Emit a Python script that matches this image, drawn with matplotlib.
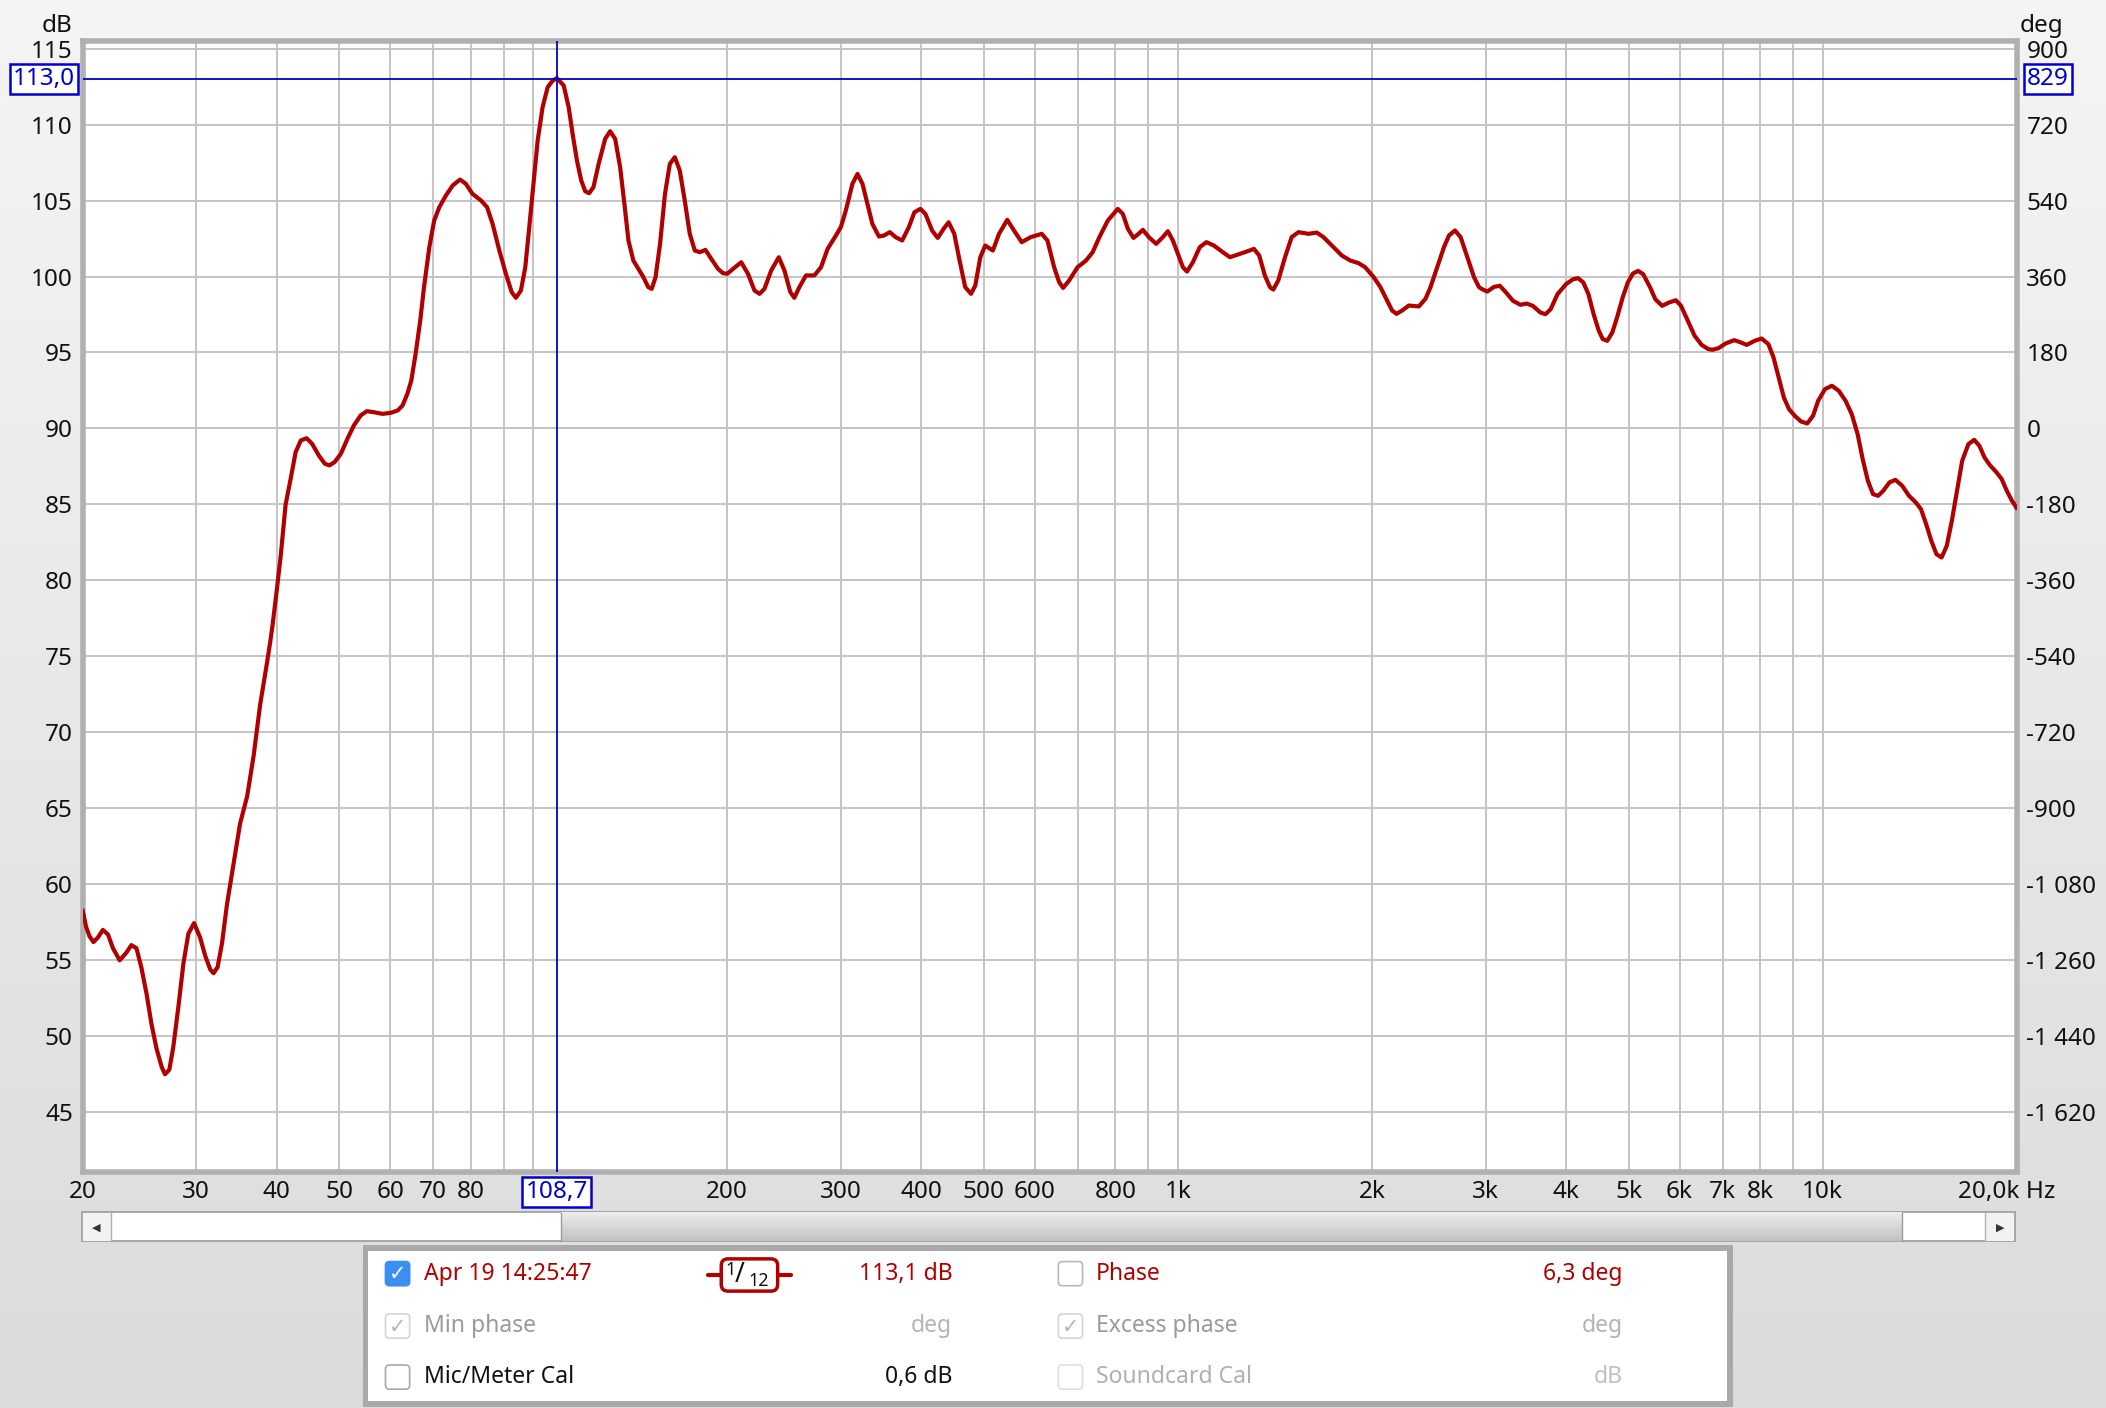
import numpy as np
import matplotlib
matplotlib.use('Agg')
import matplotlib.pyplot as plt
from matplotlib.patches import Rectangle, FancyBboxPatch
from matplotlib.transforms import blended_transform_factory
from matplotlib.ticker import NullLocator

plt.rcParams['font.family'] = ['Noto Sans', 'DejaVu Sans']

# ---------------- data ----------------
freq_hz = [
    20.0, 20.25, 20.49, 20.79, 21.12, 21.5, 21.9, 22.29, 22.83, 23.38, 23.8, 24.24, 24.68, 25.13,
    25.58, 26.04, 26.52, 26.84, 27.26, 27.65, 28.15, 28.67, 29.18, 29.78, 30.43, 30.99, 31.55,
    31.93, 32.39, 32.9, 33.5, 34.1, 35.1, 36.0, 36.85, 37.7, 38.65, 39.1, 39.4, 40.0, 40.6, 41.3,
    42.05, 42.8, 43.6, 44.5, 45.4, 46.5, 47.5, 48.3, 49.2, 50.3, 51.5, 52.7, 54.0, 55.2, 56.6,
    58.4, 60.1, 61.6, 62.7, 63.8, 64.7, 65.7, 66.8, 67.7, 69.0, 70.2, 71.5, 73.2, 75.0, 77.0,
    78.6, 80.5, 83.0, 84.8, 86.5, 88.6, 90.7, 92.6, 94.0, 95.7, 97.2, 98.6, 100.2, 101.6, 103.4,
    105.3, 107.2, 108.8,
    111.5, 113.5, 115.1, 116.9, 118.7, 120.4, 122.1, 124.0, 126.3, 129.3, 131.6, 134.0, 136.4,
    138.5, 140.5, 143.0, 145.6, 148.2, 150.8, 152.7, 154.8, 157.3, 160.1, 162.9, 165.8, 168.8,
    171.8, 174.9, 178.1, 181.3, 185.0, 188.9, 193.5, 196.9, 200.0, 204.1, 210.2, 215.3, 220.4,
    224.4, 228.4, 233.9, 240.4, 245.3, 250.5, 254.1, 258.7, 264.9, 272.9, 279.5, 286.2, 294.8,
    300.0, 305.4, 312.7, 318.4, 324.1, 329.9, 335.8, 343.8, 350.0, 357.4, 364.8, 373.5, 382.5,
    390.2, 398.7, 405.8, 415.6, 424.1, 433.1, 440.9, 449.9, 458.5, 467.8, 477.6, 485.0, 493.7,
    502.5,
    516.4, 527.9, 543.6, 556.8, 572.4, 591.1, 614.9, 627.5, 642.7, 654.3, 663.7, 678.1, 698.7,
    720.0, 737.5, 755.4, 778.4, 806.7, 821.4, 836.3, 853.3, 868.8, 882.3, 901.3, 925.3, 947.5,
    964.7, 982.2, 1000.0, 1018.0, 1033.0, 1055.0, 1081.0, 1107.0, 1137.0, 1168.0, 1204.0, 1240.0,
    1278.0, 1312.0, 1337.0, 1364.0, 1389.0, 1406.0, 1431.0, 1466.0, 1501.0, 1538.0, 1594.0,
    1642.0, 1682.0, 1743.0, 1796.0, 1851.0, 1906.0, 1952.0, 2012.0, 2061.0, 2111.0, 2149.0,
    2183.0, 2227.0, 2281.0, 2364.0, 2421.0, 2465.0, 2525.0, 2586.0, 2633.0, 2690.0, 2745.0,
    2811.0, 2879.0, 2931.0,
    2963.0, 3019.0, 3093.0, 3158.0, 3228.0, 3309.0, 3399.0, 3475.0, 3552.0, 3650.0, 3717.0,
    3786.0, 3880.0, 4000.0, 4101.0, 4176.0, 4254.0, 4333.0, 4414.0, 4496.0, 4560.0, 4634.0,
    4719.0, 4807.0, 4896.0, 4987.0, 5080.0, 5174.0, 5270.0, 5401.0, 5501.0, 5638.0, 5777.0,
    5920.0, 6031.0, 6180.0, 6331.0, 6491.0, 6650.0, 6749.0, 6898.0, 7069.0, 7291.0, 7470.0,
    7627.0, 7847.0, 8042.0, 8240.0, 8392.0, 8548.0, 8707.0, 8870.0, 9055.0, 9258.0, 9465.0,
    9663.0, 9842.0, 10086.0, 10337.0, 10593.0, 10855.0, 11097.0, 11332.0, 11539.0, 11754.0,
    11972.0, 12194.0, 12420.0, 12696.0, 12967.0, 13287.0, 13614.0, 13951.0, 14210.0, 14474.0,
    14743.0, 15016.0, 15296.0, 15580.0, 15867.0, 16162.0, 16462.0, 16831.0, 17185.0, 17505.0,
    17830.0, 18158.0, 18610.0, 18957.0, 19306.0, 19666.0, 19907.0, 20000.0,
]
spl_db = [
    58.3, 57.2, 56.6, 56.2, 56.5, 57.0, 56.7, 55.8, 55.0, 55.5, 56.0, 55.8, 54.5, 52.8,
    50.8, 49.2, 48.0, 47.5, 47.8, 49.3, 51.9, 54.8, 56.75, 57.45, 56.5, 55.3, 54.4,
    54.15, 54.55, 56.1, 58.7, 60.7, 64.0, 65.8, 68.5, 71.8, 74.6, 76.0, 77.0, 79.3, 81.7, 85.0,
    86.69, 88.44, 89.21, 89.36, 88.99, 88.22, 87.68, 87.57, 87.79, 88.33, 89.32, 90.20, 90.86,
    91.14, 91.07, 90.96, 91.03, 91.18, 91.51, 92.28, 93.16, 94.91, 97.11, 99.30, 101.93, 103.68,
    104.56, 105.33, 105.99, 106.38, 106.10, 105.44, 105.0, 104.56, 103.46, 101.71, 100.18, 98.97,
    98.60, 99.08, 100.61, 103.25, 106.32, 108.95, 111.14, 112.46, 112.89, 113.05,
    112.57, 111.14, 109.39, 107.63, 106.32, 105.61, 105.48, 105.88, 107.4, 109.06, 109.56, 109.06,
    107.19, 104.78, 102.37, 101.05, 100.5, 99.96, 99.3, 99.19, 99.96, 102.15, 105.44, 107.41,
    107.85, 106.97, 105.0, 102.81, 101.71, 101.6, 101.75, 101.16, 100.5, 100.22, 100.18, 100.5,
    100.94, 100.18, 99.08, 98.86, 99.19, 100.39, 101.27, 100.39, 98.97, 98.6, 99.3, 100.07,
    100.07, 100.61, 101.82, 102.7, 103.25, 104.34, 106.1, 106.75, 106.1, 104.78, 103.46, 102.63,
    102.7, 102.92, 102.59, 102.37, 103.25, 104.23, 104.45, 104.12, 103.03, 102.54, 103.14,
    103.57, 102.81, 101.05, 99.3, 98.86, 99.41, 101.27, 102.04,
    101.71, 102.81, 103.73, 103.03, 102.26, 102.59, 102.81, 102.37, 100.61, 99.63, 99.25, 99.74,
    100.61, 101.05, 101.6, 102.59, 103.68, 104.45, 104.12, 103.14, 102.54, 102.81, 103.07,
    102.59, 102.15, 102.59, 102.98, 102.37, 101.49, 100.61, 100.33, 100.94, 101.93, 102.26,
    102.04, 101.67, 101.27, 101.45, 101.64, 101.82, 101.38, 100.07, 99.3, 99.14, 99.74, 101.27,
    102.59, 102.92, 102.81, 102.89, 102.59, 101.93, 101.38, 101.05, 100.88, 100.61, 99.96, 99.3,
    98.42, 97.76, 97.54, 97.76, 98.09, 98.03, 98.53, 99.3, 100.61, 101.93, 102.7, 103.03, 102.59,
    101.27, 99.96, 99.3,
    99.17, 99.01, 99.32, 99.39, 98.95, 98.4, 98.14, 98.22, 98.07, 97.63, 97.52,
    97.85, 98.84, 99.5, 99.82, 99.89, 99.61, 98.84, 97.52, 96.43, 95.88, 95.77,
    96.32, 97.41, 98.62, 99.61, 100.2, 100.37, 100.15, 99.28, 98.51, 98.07, 98.29,
    98.44, 98.07, 97.08, 96.1, 95.5, 95.22, 95.18, 95.29, 95.59, 95.81, 95.66,
    95.5, 95.77, 95.92, 95.55, 94.67, 93.36, 92.04, 91.27, 90.83, 90.46, 90.33,
    90.83, 91.82, 92.59, 92.81, 92.48, 91.82, 90.94, 89.63, 87.98, 86.56,
    85.68, 85.57, 85.9, 86.45, 86.62, 86.23, 85.57, 85.13, 84.69, 83.71,
    82.61, 81.73, 81.51, 82.28, 83.93, 85.9, 87.87, 88.97, 89.25, 88.86,
    88.09, 87.61, 87.11, 86.67, 85.9, 85.24, 84.91, 84.75,
]

grid_freqs = [20, 30, 40, 50, 60, 70, 80, 90, 100, 200, 300, 400, 500, 600, 700, 800, 900,
              1000, 2000, 3000, 4000, 5000, 6000, 7000, 8000, 9000, 10000, 20000]
grid_labels = ['20', '30', '40', '50', '60', '70', '80', '', '', '200', '300', '400', '500',
               '600', '', '800', '', '1k', '2k', '3k', '4k', '5k', '6k', '7k', '8k', '', '10k', '']
db_ticks = [45, 50, 55, 60, 65, 70, 75, 80, 85, 90, 95, 100, 105, 110, 115]
deg_ticks = [900, 720, 540, 360, 180, 0, -180, -360, -540, -720, -900, -1080, -1260, -1440, -1620]
deg_labels = ['900', '720', '540', '360', '180', '0', '-180', '-360', '-540', '-720', '-900',
              '-1 080', '-1 260', '-1 440', '-1 620']

cursor_freq = 108.7
cursor_db = 113.0
cursor_freq_label = '108,7'
cursor_db_label = '113,0'
cursor_deg_label = '829'
end_label = '20,0k Hz'

legend_row1 = ['Apr 19 14:25:47', '113,1 dB', 'Phase', '6,3 deg']
legend_row2 = ['Min phase', 'deg', 'Excess phase', 'deg']
legend_row3 = ['Mic/Meter Cal', '0,6 dB', 'Soundcard Cal', 'dB']

# ---------------- figure ----------------
W, H = 1568.0, 1048.0
fig = plt.figure(figsize=(21.06, 14.08), dpi=100)

bg = fig.add_axes([0, 0, 1, 1], zorder=0)
bg.set_xlim(0, W)
bg.set_ylim(H, 0)
bg.axis('off')
grad = np.linspace(0, 1, 256).reshape(-1, 1)
top = np.array([0.960, 0.960, 0.960])
bot = np.array([0.860, 0.860, 0.860])
img = top + (bot - top) * grad[..., None]
img = np.repeat(img, 2, axis=1)
bg.imshow(img, extent=(0, W, H, 0), aspect='auto', zorder=0)

RED = '#b00000'
BLUE = '#0000cc'
FS = 17.5

ax = fig.add_axes([61.5 / W, 1 - 872 / H, 1440 / W, 841.5 / H], zorder=2)
ax.set_facecolor('white')
ax.set_xscale('log')
ax.set_xlim(20, 20000)
ax.set_ylim(41.1, 115.5)
ax.set_xticks(grid_freqs, grid_labels)
ax.xaxis.set_minor_locator(NullLocator())
ax.set_yticks(db_ticks, [str(v) for v in db_ticks])
ax.tick_params(axis='both', length=0, labelsize=FS, colors='#111111')
ax.tick_params(axis='y', pad=7)
ax.tick_params(axis='x', pad=6)
ax.grid(True, color='#c4c4c4', lw=1.4)
ax.set_axisbelow(True)
for s in ax.spines.values():
    s.set_color('#b0b0b0')
    s.set_linewidth(4)

sec = ax.secondary_yaxis('right', functions=(lambda d: (d - 90) * 36, lambda g: g / 36 + 90))
sec.set_yticks(deg_ticks, deg_labels)
sec.tick_params(length=0, labelsize=FS, pad=7, colors='#111111')
sec.spines['right'].set_visible(False)

ax.plot(freq_hz, spl_db, color=RED, lw=3.0, solid_joinstyle='round', solid_capstyle='round', zorder=3)
ax.axvline(cursor_freq, color=BLUE, lw=1.3, zorder=4)
ax.axhline(cursor_db, color=BLUE, lw=1.3, zorder=4)

# axis unit labels
bg.text(54, 19, 'dB', ha='right', va='center', fontsize=FS, color='#111111')
bg.text(1504, 19, 'deg', ha='left', va='center', fontsize=FS, color='#111111')

# cursor value boxes
tr_y = blended_transform_factory(bg.transData, ax.transData)
tr_x = blended_transform_factory(ax.transData, bg.transData)
boxkw = dict(boxstyle='square,pad=0.12', fc='white', ec=BLUE, lw=1.8)
ax.text(56, cursor_db, cursor_db_label, transform=tr_y, ha='right', va='center', fontsize=FS,
        color=BLUE, bbox=boxkw, clip_on=False, zorder=10)
ax.text(1509, cursor_db, cursor_deg_label, transform=tr_y, ha='left', va='center', fontsize=FS,
        color=BLUE, bbox=boxkw, clip_on=False, zorder=10)
ax.text(cursor_freq, 887, cursor_freq_label, transform=tr_x, ha='center', va='center', fontsize=FS,
        color=BLUE, bbox=boxkw, clip_on=False, zorder=10)
ax.text(1530, 887, end_label, transform=bg.transData, ha='right', va='center', fontsize=FS,
        color='#111111', clip_on=False, zorder=10)

# ---------------- scrollbar ----------------
bg.add_patch(Rectangle((61, 902), 1439, 22, fc='white', ec='#9a9a9a', lw=1.2, zorder=2))
thumb = np.linspace(0.93, 0.76, 64).reshape(-1, 1, 1) * np.ones((1, 2, 3))
bg.imshow(thumb, extent=(418, 1416, 924, 903), aspect='auto', zorder=3)
bg.plot([418, 418], [903, 924], color='#9a9a9a', lw=1, zorder=4)
bg.plot([1416, 1416], [903, 924], color='#9a9a9a', lw=1, zorder=4)
bg.plot([83, 83], [903, 924], color='#b0b0b0', lw=1, zorder=4)
bg.plot([1478, 1478], [903, 924], color='#b0b0b0', lw=1, zorder=4)
bg.add_patch(Rectangle((61.5, 902.5), 21, 21, fc='#f2f2f2', ec='none', zorder=3))
bg.add_patch(Rectangle((1478.5, 902.5), 21, 21, fc='#f2f2f2', ec='none', zorder=3))
bg.text(72, 913.5, '◀', ha='center', va='center', fontsize=8, color='#333333', zorder=5,
        family=['DejaVu Sans'])
bg.text(1489, 913.5, '▶', ha='center', va='center', fontsize=8, color='#333333', zorder=5,
        family=['DejaVu Sans'])

# ---------------- legend panel ----------------
bg.add_patch(Rectangle((270, 927), 1020, 120, fc='#a9a9a9', ec='none', zorder=2))
bg.add_patch(Rectangle((274, 931), 1012, 112, fc='white', ec='none', zorder=3))

LFS = 16.5
rows_y = [948, 987, 1025]


def checkbox(x, y, face, edge, check=None):
    bg.add_patch(FancyBboxPatch((x - 9, y - 9), 18, 18, boxstyle='round,pad=0,rounding_size=3',
                                fc=face, ec=edge, lw=1.2, zorder=5))
    if check:
        bg.text(x, y + 0.5, '✓', ha='center', va='center', fontsize=15, color=check, zorder=6,
                family=['DejaVu Sans'])


checkbox(296, rows_y[0], '#3b8ff2', '#3b8ff2', 'white')
checkbox(797, rows_y[0], 'white', '#b8b8b8')
checkbox(296, rows_y[1], 'white', '#d4d4d4', '#b5b5b5')
checkbox(797, rows_y[1], 'white', '#d4d4d4', '#b5b5b5')
checkbox(296, rows_y[2], 'white', '#a8a8a8')
checkbox(797, rows_y[2], 'white', '#dedede')

row_colors = [
    (RED, RED, RED, RED),
    ('#9a9a9a', '#b4b4b4', '#9a9a9a', '#b4b4b4'),
    ('#111111', '#111111', '#b0b0b0', '#c0c0c0'),
]
for rowvals, y, cols in zip([legend_row1, legend_row2, legend_row3], rows_y, row_colors):
    bg.text(316, y, rowvals[0], ha='left', va='center', fontsize=LFS, color=cols[0], zorder=6)
    bg.text(709, y, rowvals[1], ha='right', va='center', fontsize=LFS, color=cols[1], zorder=6)
    bg.text(816, y, rowvals[2], ha='left', va='center', fontsize=LFS, color=cols[2], zorder=6)
    bg.text(1208, y, rowvals[3], ha='right', va='center', fontsize=LFS, color=cols[3], zorder=6)

# smoothing symbol 1/12
bg.plot([527, 537], [949, 949], color=RED, lw=3, zorder=5, solid_capstyle='round')
bg.plot([579, 589], [949, 949], color=RED, lw=3, zorder=5, solid_capstyle='round')
bg.add_patch(FancyBboxPatch((537, 937), 42, 24, boxstyle='round,pad=0,rounding_size=5',
                            fc='white', ec=RED, lw=2.5, zorder=6))
bg.text(544, 945, '1', ha='center', va='center', fontsize=13, color='#111111', zorder=7)
bg.text(551, 949, '/', ha='center', va='center', fontsize=19, color='#111111', zorder=7)
bg.text(565, 953.5, '12', ha='center', va='center', fontsize=13, color='#111111', zorder=7)

fig.savefig('out.png', dpi=100, facecolor=fig.get_facecolor())
